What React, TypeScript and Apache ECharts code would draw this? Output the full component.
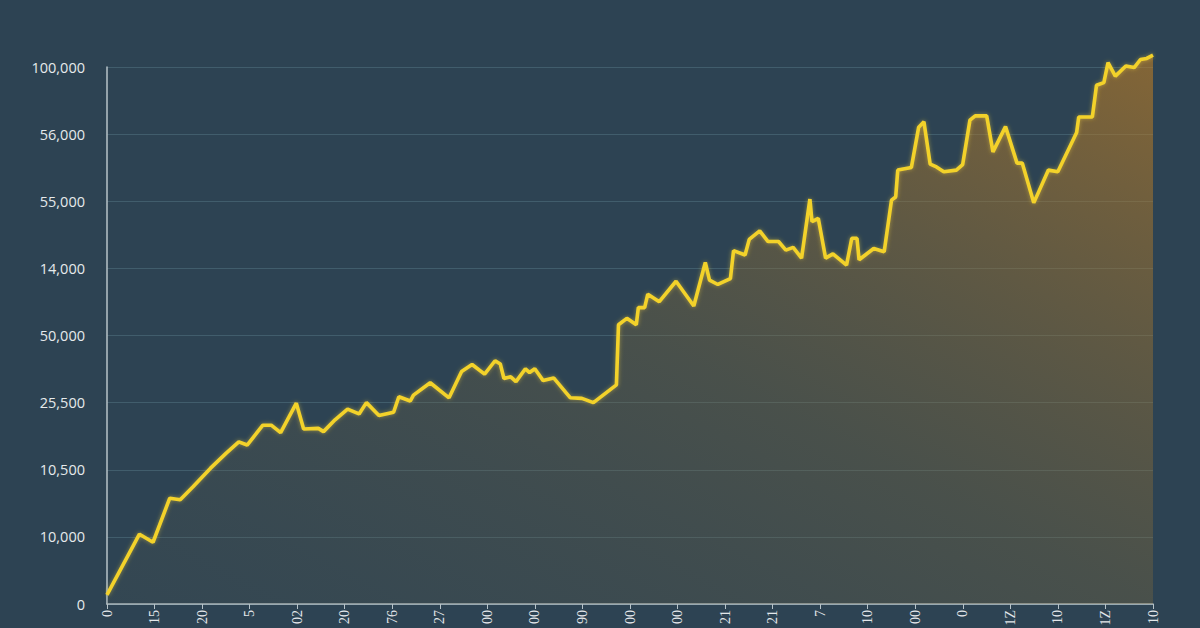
import React, { useEffect, useRef } from "react";
import * as echarts from "echarts";

// y tick labels (bottom to top), evenly spaced gridlines
const yTickLabels = ["0", "10,000", "10,500", "25,500", "50,000", "14,000", "55,000", "56,000", "100,000"];

// x tick labels (as printed)
const xTickLabels = [
  "0", "15", "20", "5", "02", "20", "76", "27", "00", "00", "90", "00",
  "00", "21", "21", "7", "10", "00", "0", "1Z", "10", "1Z", "10",
];

// line positions along the x range (0..100)
const seriesX = [
  0.0, 3.1, 4.4, 6.0, 7.0, 8.2, 9.9, 11.4, 12.6, 13.4, 14.9, 15.7, 16.6, 18.1, 18.8, 20.2, 20.7, 21.8,
  23.0, 24.1, 24.8, 26.0, 27.4, 27.9, 29.0, 29.3, 30.9, 32.7, 33.9, 34.9, 36.1, 37.1, 37.6, 37.95,
  38.6, 39.1, 40.0, 40.4, 40.9, 41.7, 42.7, 44.3, 45.4, 46.5, 48.7, 48.9, 49.7, 50.6, 50.8, 51.4,
  51.7, 52.8, 54.4, 56.1, 57.2, 57.6, 58.4, 59.6, 59.9, 61.0, 61.4, 62.4, 63.2, 64.2, 64.9, 65.6,
  66.4, 67.2, 67.4, 68.0, 68.7, 69.4, 70.7, 71.2, 71.7, 71.9, 73.3, 74.3, 75.0, 75.4, 75.6, 76.9,
  77.6, 78.1, 78.7, 79.3, 80.0, 81.2, 81.8, 82.5, 83.0, 84.1, 84.7, 85.9, 87.0, 87.5, 88.6, 90.0,
  90.9, 92.7, 92.9, 94.2, 94.6, 95.3, 95.7, 96.4, 97.4, 98.2, 98.8, 99.4, 100,
];

// line values in grid units (each gridline step = 12.5)
const seriesY = [
  1.7, 13.0, 11.5, 19.7, 19.4, 21.8, 25.3, 28.1, 30.2, 29.6, 33.3, 33.3, 31.9, 37.4, 32.6, 32.7, 32.1, 34.3,
  36.3, 35.4, 37.5, 35.1, 35.7, 38.6, 37.8, 38.9, 41.2, 38.4, 43.3, 44.6, 42.8, 45.3, 44.7, 42.0,
  42.3, 41.4, 43.8, 43.1, 43.8, 41.6, 42.1, 38.4, 38.3, 37.5, 40.8, 52.0, 53.2, 52.0, 55.2, 55.2,
  57.7, 56.3, 60.1, 55.5, 63.6, 60.3, 59.5, 60.6, 65.8, 65.0, 67.9, 69.5, 67.5, 67.5, 65.9, 66.4,
  64.4, 75.4, 71.2, 71.8, 64.4, 65.2, 63.1, 68.1, 68.1, 64.1, 66.2, 65.6, 75.2, 75.8, 80.8, 81.3,
  88.8, 89.8, 81.9, 81.4, 80.5, 80.8, 81.8, 90.1, 90.9, 90.9, 84.2, 88.9, 82.1, 82.1, 74.7, 80.8,
  80.5, 87.8, 90.7, 90.7, 96.6, 97.1, 100.8, 98.3, 100.2, 99.9, 101.4, 101.6, 102.2,
];

export default function App() {
  const ref = useRef<HTMLDivElement>(null);

  useEffect(() => {
    document.body.style.margin = "0";
    const chart = echarts.init(ref.current!, null, { renderer: "svg" });
    const data = seriesX.map((x, i) => [x, seriesY[i]]);
    chart.setOption({
      animation: false,
      backgroundColor: "#2d4353",
      grid: {
        left: 107,
        top: 67,
        width: 1046,
        height: 537,
        containLabel: false,
        outerBoundsMode: "none",
      },
      xAxis: [
        { type: "value", min: 0, max: 100, show: false },
        {
          type: "category",
          data: xTickLabels,
          boundaryGap: false,
          position: "bottom",
          axisLine: { show: true, lineStyle: { color: "#b7c3c9", width: 1.5 } },
          axisTick: { show: true, length: 5, lineStyle: { color: "#b7c3c9" } },
          axisLabel: {
            rotate: 90,
            margin: 6,
            color: "#e3e7ea",
            fontSize: 14,
            fontFamily: "Liberation Serif",
          },
          splitLine: { show: false },
        },
      ],
      yAxis: {
        type: "value",
        min: 0,
        max: 100,
        interval: 12.5,
        axisLine: { show: true, lineStyle: { color: "#b7c3c9", width: 1.5 } },
        axisTick: { show: false },
        axisLabel: {
          margin: 22,
          color: "#e6eaec",
          fontSize: 14.5,
          fontFamily: "Open Sans",
          formatter: (v: number) => yTickLabels[Math.round(v / 12.5)] ?? "",
        },
        splitLine: { show: true, lineStyle: { color: "rgba(120,160,175,0.28)", width: 1.2 } },
      },
      series: [
        {
          type: "line",
          xAxisIndex: 0,
          data,
          clip: false,
          symbol: "none",
          lineStyle: {
            color: "#f3d22b",
            width: 3.6,
            shadowColor: "rgba(255,220,60,0.45)",
            shadowBlur: 4,
          },
          areaStyle: {
            color: new echarts.graphic.LinearGradient(0, 1, 1, 0, [
              { offset: 0, color: "rgba(85,90,80,0.22)" },
              { offset: 0.5, color: "rgba(125,105,60,0.5)" },
              { offset: 1, color: "rgba(190,125,35,0.85)" },
            ]),
          },
        },
      ],
    });
    return () => chart.dispose();
  }, []);

  return <div ref={ref} style={{ position: "fixed", left: 0, top: 0, width: 1200, height: 628 }} />;
}
